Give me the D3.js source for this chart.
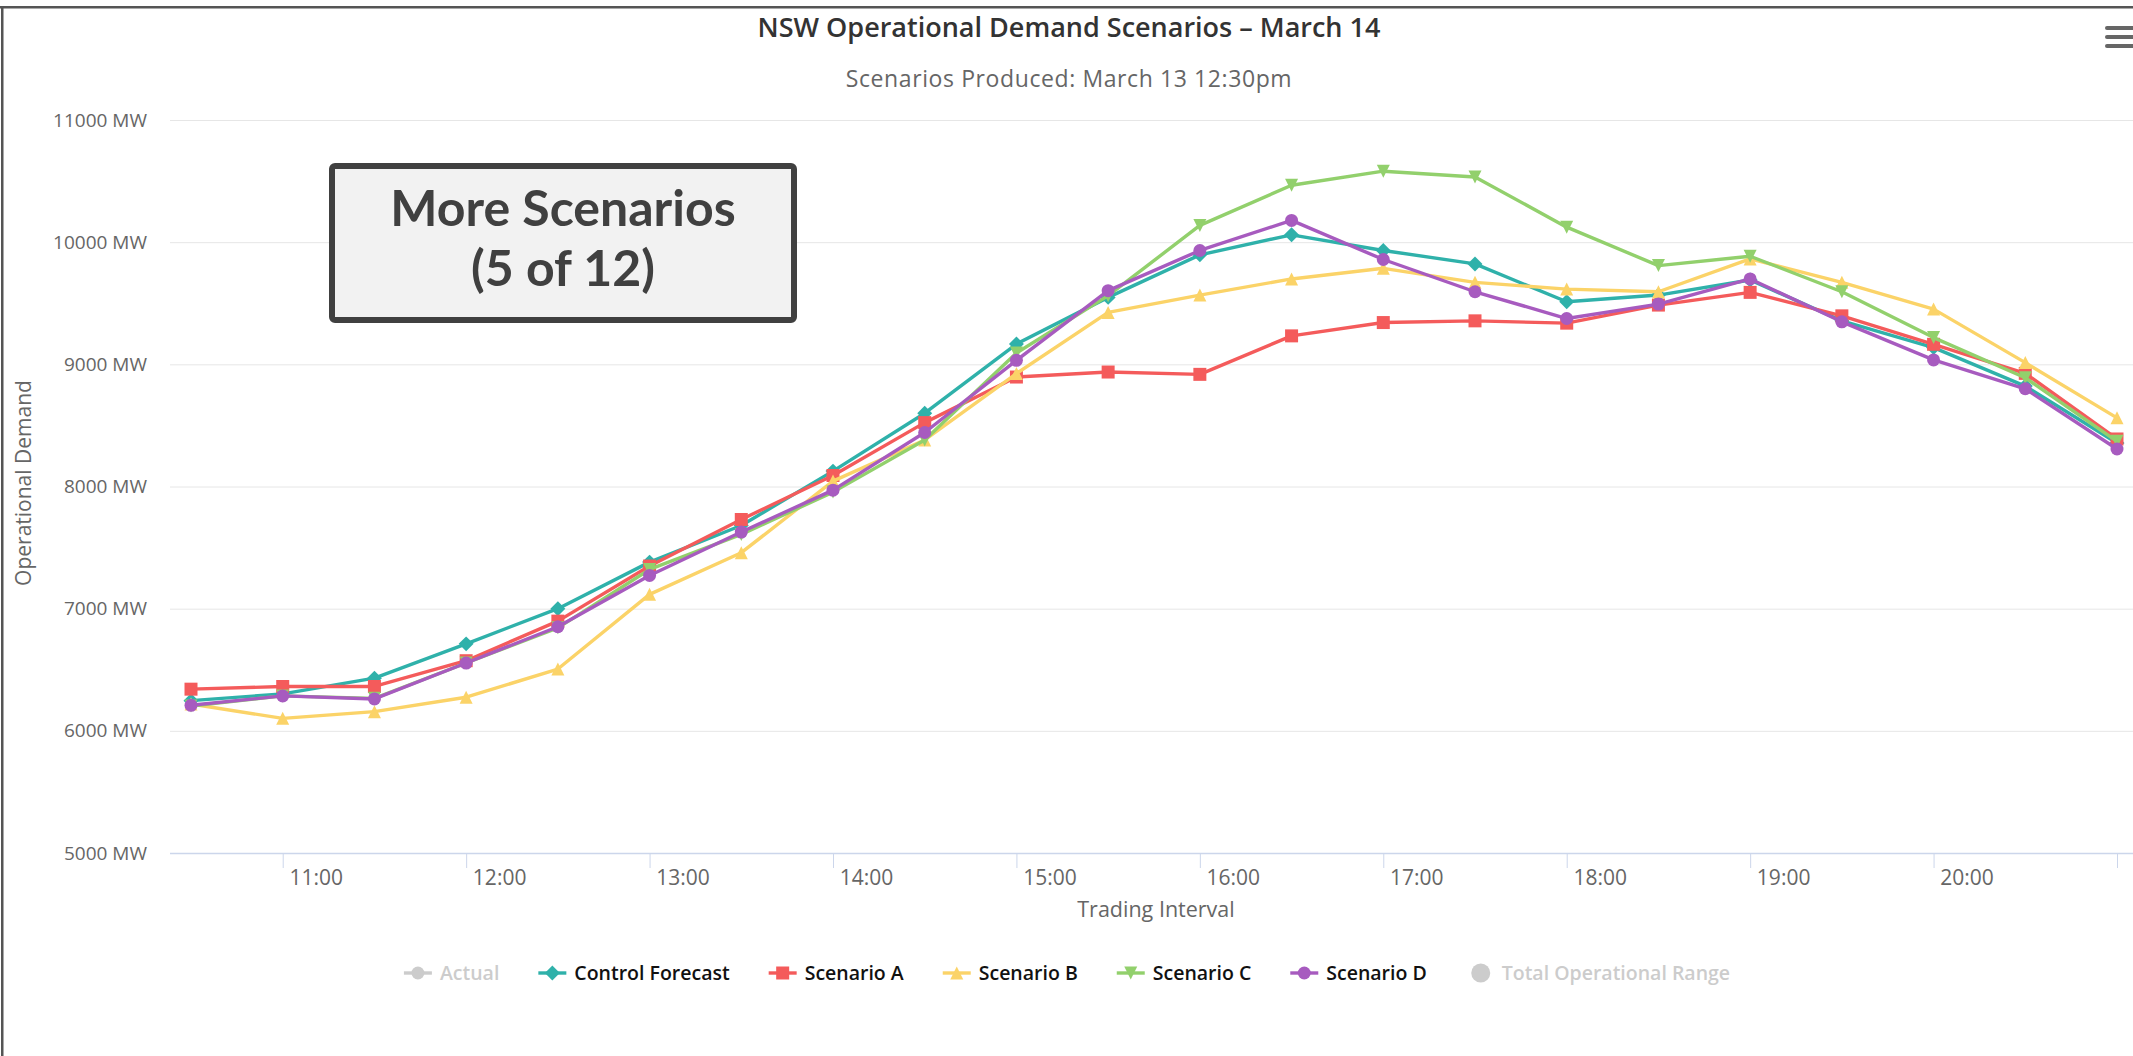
<!DOCTYPE html>
<html>
<head>
<meta charset="utf-8">
<script src="https://cdn.jsdelivr.net/npm/d3@7"></script>
<style>
  body { margin: 0; background: #fff; overflow: hidden; }
  svg { display: block; font-family: "Open Sans", sans-serif; }
</style>
</head>
<body>
<svg id="chart" width="2133" height="1056"></svg>
<script>
// Half-hourly trading intervals
const times = ["10:30","11:00","11:30","12:00","12:30","13:00","13:30","14:00","14:30","15:00","15:30",
               "16:00","16:30","17:00","17:30","18:00","18:30","19:00","19:30","20:00","20:30","21:00"];

// Operational demand (MW) per scenario
const controlForecast = [6247,6302,6431,6712,7000,7381,7681,8126,8600,9166,9548,9896,10060,9932,9822,9512,9567,9690,9356,9137,8822,8356];
const scenarioA       = [6341,6363,6363,6574,6898,7349,7730,8090,8523,8896,8937,8918,9233,9342,9356,9337,9485,9589,9397,9164,8926,8389];
const scenarioB       = [6220,6102,6157,6275,6506,7117,7458,8044,8381,8924,9425,9567,9699,9786,9671,9616,9594,9863,9671,9452,9014,8562];
const scenarioC       = [6203,6286,6266,6555,6843,7321,7608,7954,8381,9093,9562,10137,10466,10581,10534,10123,9808,9885,9594,9219,8890,8370];
const scenarioD       = [6209,6286,6261,6555,6852,7272,7627,7970,8442,9033,9603,9932,10178,9858,9594,9375,9493,9699,9348,9036,8800,8307];

const yTicks = [5000,6000,7000,8000,9000,10000,11000];
const xTicks = ["11:00","12:00","13:00","14:00","15:00","16:00","17:00","18:00","19:00","20:00","21:00"];
const xTickLabels = ["11:00","12:00","13:00","14:00","15:00","16:00","17:00","18:00","19:00","20:00",""];

const seriesNames   = ["Control Forecast","Scenario A","Scenario B","Scenario C","Scenario D"];
const seriesValues  = [controlForecast, scenarioA, scenarioB, scenarioC, scenarioD];
const seriesColors  = ["#2fb1aa","#f45b5b","#fbd368","#92d06c","#a75bbf"];
const seriesSymbols = ["diamond","square","triangle","triangle-down","circle"];

const W = 2133, H = 1056;
const plotLeft = 170, plotRight = 2133;
const svg = d3.select("#chart");

svg.append("rect").attr("width", W).attr("height", H).attr("fill", "#fff");

const parse = d3.timeParse("%H:%M");
const x = d3.scaleTime().domain([parse("10:30"), parse("21:00")]).range([191, 2117]);
const y = d3.scaleLinear().domain([5000, 11000]).range([853, 120]);

// Marker shapes in a 2r box
function symbolPath(shape, r) {
  switch (shape) {
    case "square": return `M${-r},${-r}h${2*r}v${2*r}h${-2*r}Z`;
    case "diamond": return `M0,${-r*1.15}L${r*1.15},0L0,${r*1.15}L${-r*1.15},0Z`;
    case "triangle": return `M0,${-r}L${r},${r}L${-r},${r}Z`;
    case "triangle-down": return `M${-r},${-r}L${r},${-r}L0,${r}Z`;
    default: return `M${-r},0a${r},${r} 0 1,0 ${2*r},0a${r},${r} 0 1,0 ${-2*r},0`;
  }
}

// Frame edges
svg.append("rect").attr("x", 0).attr("y", 6).attr("width", W).attr("height", 2.5).attr("fill", "#555");
svg.append("rect").attr("x", 1).attr("y", 6).attr("width", 2.5).attr("height", H).attr("fill", "#555");

// Titles
svg.append("text").attr("x", 1069).attr("y", 37).attr("text-anchor", "middle")
  .attr("font-size", 27).attr("font-weight", 600).attr("fill", "#333")
  .text("NSW Operational Demand Scenarios – March 14");
svg.append("text").attr("x", 1069).attr("y", 87).attr("text-anchor", "middle")
  .attr("font-size", 23).attr("letter-spacing", 0.6).attr("fill", "#666")
  .text("Scenarios Produced: March 13 12:30pm");

// Menu icon
[28, 37, 46].forEach(cy => {
  svg.append("rect").attr("x", 2105).attr("y", cy - 2).attr("width", 34).attr("height", 4)
    .attr("rx", 2).attr("fill", "#666");
});

// Y axis with gridlines
const yAxis = svg.append("g").attr("transform", `translate(${plotLeft},0)`)
  .call(d3.axisLeft(y).tickValues(yTicks).tickSize(-(plotRight - plotLeft)).tickPadding(23)
    .tickFormat(d => d + " MW"));
yAxis.select(".domain").remove();
yAxis.selectAll(".tick line").attr("stroke", "#e6e6e6");
yAxis.selectAll(".tick text").attr("fill", "#666").attr("font-size", 19)
  .attr("font-family", "Open Sans, sans-serif");

svg.append("text").attr("transform", "translate(24,483) rotate(-90)").attr("text-anchor", "middle")
  .attr("dy", "0.35em").attr("font-size", 21).attr("fill", "#666").text("Operational Demand");

// X axis
const xAxis = svg.append("g").attr("transform", `translate(0,${y(5000)})`)
  .call(d3.axisBottom(x).tickValues(xTicks.map(parse)).tickSize(15)
    .tickFormat((d, i) => xTickLabels[i]));
xAxis.select(".domain").remove();
xAxis.selectAll(".tick line").attr("stroke", "#ccd6eb");
xAxis.selectAll(".tick text").attr("fill", "#666").attr("font-size", 21)
  .attr("font-family", "Open Sans, sans-serif").attr("x", 33).attr("y", 25).attr("dy", "0.32em");
svg.append("line").attr("x1", plotLeft).attr("x2", plotRight)
  .attr("y1", y(5000) + 0.5).attr("y2", y(5000) + 0.5).attr("stroke", "#ccd6eb").attr("stroke-width", 1.5);

svg.append("text").attr("x", 1156).attr("y", 909).attr("text-anchor", "middle").attr("dy", "0.35em")
  .attr("font-size", 21.5).attr("fill", "#666").text("Trading Interval");

// Series lines and markers
const line = d3.line().x(d => x(d.t)).y(d => y(d.v));
seriesNames.forEach((name, s) => {
  const pts = times.map((t, i) => ({ t: parse(t), v: seriesValues[s][i] }));
  const g = svg.append("g").attr("class", "series");
  g.append("path").datum(pts).attr("d", line).attr("fill", "none")
    .attr("stroke", seriesColors[s]).attr("stroke-width", 3.4).attr("stroke-linejoin", "round");
  g.selectAll("path.marker").data(pts).enter().append("path").attr("class", "marker")
    .attr("transform", d => `translate(${x(d.t)},${y(d.v)})`)
    .attr("d", symbolPath(seriesSymbols[s], 6.5)).attr("fill", seriesColors[s]);
});

// Annotation box
svg.append("rect").attr("x", 332).attr("y", 166).attr("width", 462).attr("height", 154)
  .attr("rx", 3).attr("fill", "#f2f2f2").attr("stroke", "#404040").attr("stroke-width", 6);
const boxText = svg.append("text").attr("text-anchor", "middle")
  .attr("font-family", "Lato, sans-serif").attr("font-weight", 700).attr("font-size", 50).attr("fill", "#404040");
boxText.append("tspan").attr("x", 563).attr("y", 208).attr("dy", "0.35em").text("More Scenarios");
boxText.append("tspan").attr("x", 563).attr("y", 268).attr("dy", "0.35em").text("(5 of 12)");

// Legend
const legendItems = [
  { name: "Actual", color: "#cccccc", symbol: "circle", line: true, hidden: true },
  ...seriesNames.map((n, i) => ({ name: n, color: seriesColors[i], symbol: seriesSymbols[i], line: true, hidden: false })),
  { name: "Total Operational Range", color: "#cccccc", symbol: "circle", line: false, hidden: true }
];
const legend = svg.append("g");
let cursor = 0;
legendItems.forEach(item => {
  const g = legend.append("g");
  const tx = cursor + 36;
  if (item.line) {
    g.append("line").attr("x1", tx - 36).attr("x2", tx - 8).attr("y1", 0).attr("y2", 0)
      .attr("stroke", item.color).attr("stroke-width", 3.4);
    g.append("path").attr("transform", `translate(${tx - 22},0)`)
      .attr("d", symbolPath(item.symbol, 6.5)).attr("fill", item.color);
  } else {
    g.append("circle").attr("cx", tx - 21).attr("cy", 0).attr("r", 9.5).attr("fill", item.color);
  }
  const t = g.append("text").attr("x", tx).attr("y", 0).attr("dy", "0.35em")
    .attr("font-size", 19.5).attr("font-weight", 600)
    .attr("fill", item.hidden ? "#cccccc" : "#111").text(item.name);
  cursor = tx + t.node().getComputedTextLength() + 39;
});
const legendWidth = cursor - 39;
legend.attr("transform", `translate(${1067 - legendWidth / 2},973)`);
</script>
</body>
</html>
